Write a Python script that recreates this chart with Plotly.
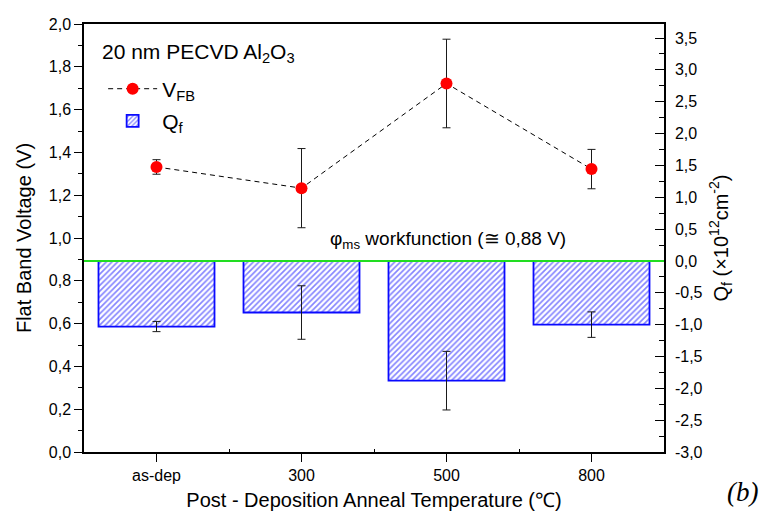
import plotly.graph_objects as go

# Anneal conditions on the x axis
categories = ["as-dep", "300", "500", "800"]

# Flat-band voltage (V) with its error
vfb = [1.332, 1.233, 1.722, 1.322]
vfb_err = [0.034, 0.185, 0.207, 0.092]

# Fixed oxide charge (1e12 cm^-2) with its error
qf = [-1.03, -0.81, -1.88, -1.00]
qf_err = [0.08, 0.42, 0.46, 0.20]

left_ticks = [0.0, 0.2, 0.4, 0.6, 0.8, 1.0, 1.2, 1.4, 1.6, 1.8, 2.0]
right_ticks = [-3.0, -2.5, -2.0, -1.5, -1.0, -0.5, 0.0, 0.5, 1.0, 1.5, 2.0, 2.5, 3.0, 3.5]

x = list(range(len(categories)))
FONT = "Liberation Sans, Arial, sans-serif"
BLUE = "#0a0aff"


def comma(v):
    return f"{v:.1f}".replace(".", ",")


fig = go.Figure()

fig.add_trace(go.Bar(
    x=x, y=qf, yaxis="y2", width=0.8,
    name="Q<sub>f</sub>", legend="legend2", showlegend=True,
    marker=dict(color="white", line=dict(color=BLUE, width=1.8),
                pattern=dict(shape="/", fgcolor=BLUE, bgcolor="white",
                             size=4, solidity=0.42)),
    error_y=dict(type="data", array=qf_err, color="#1a1a1a",
                 thickness=1, width=4),
))

fig.add_trace(go.Scatter(
    x=x, y=vfb, mode="lines+markers", name="V<sub>FB</sub>",
    legend="legend", showlegend=True,
    line=dict(color="black", width=1, dash="5px,4px"),
    marker=dict(color="#ff0000", size=12),
    error_y=dict(type="data", array=vfb_err, color="#1a1a1a",
                 thickness=1, width=4),
))

# Qf = 0 reference (metal-semiconductor workfunction difference)
fig.add_shape(type="line", xref="paper", x0=0, x1=1, yref="y2", y0=0, y1=0,
              line=dict(color="#22dd22", width=2))

fig.add_annotation(xref="paper", yref="paper", x=0.628, y=0.495,
                   text="φ<sub>ms</sub> workfunction (≅ 0,88 V)",
                   showarrow=False, font=dict(family=FONT, size=19, color="black"))
fig.add_annotation(xref="paper", yref="paper", x=0.027, y=0.932, xanchor="left",
                   yanchor="middle",
                   text="20 nm PECVD Al<sub>2</sub>O<sub>3</sub>",
                   showarrow=False, font=dict(family=FONT, size=21, color="black"))
fig.add_annotation(xref="paper", yref="paper", x=1.166, y=-0.134,
                   text="<i>(b)</i>", showarrow=False,
                   font=dict(family="Liberation Serif, Times New Roman, serif",
                             size=27, color="black"))

fig.update_layout(
    width=781, height=524,
    margin=dict(l=84, r=117, t=24, b=72),
    paper_bgcolor="white", plot_bgcolor="white",
    font=dict(family=FONT, size=16, color="black"),
    showlegend=True,
    xaxis=dict(
        range=[-0.5, 3.5], tickvals=x, ticktext=categories,
        showline=True, linecolor="black", linewidth=1.5, mirror=True,
        ticks="outside", ticklen=8, tickwidth=1.2, tickcolor="black",
        minor=dict(tickvals=[0.5, 1.5, 2.5], ticks="inside", ticklen=3,
                   tickcolor="black"),
        showgrid=False, zeroline=False,
        title=dict(text="Post - Deposition Anneal Temperature (℃)",
                   font=dict(family=FONT, size=20), standoff=10),
        tickfont=dict(size=16),
    ),
    yaxis=dict(
        range=[0, 2], tickvals=left_ticks, ticktext=[comma(v) for v in left_ticks],
        showline=True, linecolor="black", linewidth=1.5,
        ticks="outside", ticklen=8, tickwidth=1.2, tickcolor="black",
        minor=dict(dtick=0.1, ticks="outside", ticklen=4, tickcolor="black"),
        showgrid=False, zeroline=False,
        title=dict(text="Flat Band Voltage (V)", font=dict(family=FONT, size=20),
                   standoff=12),
        tickfont=dict(size=16),
    ),
    yaxis2=dict(
        overlaying="y", side="right", anchor="x",
        range=[-3, 3.72], tickvals=right_ticks,
        ticktext=[comma(v) for v in right_ticks],
        showline=True, linecolor="black", linewidth=1.5,
        ticks="inside", ticklen=9, tickwidth=1.2, tickcolor="black",
        ticklabelstandoff=6,
        minor=dict(tickvals=[v + 0.25 for v in right_ticks],
                   ticks="inside", ticklen=5, tickcolor="black"),
        showgrid=False, zeroline=False,
        title=dict(text="Q<sub>f</sub> (×10<sup>12</sup>cm<sup>-2</sup>)",
                   font=dict(family=FONT, size=20), standoff=12),
        tickfont=dict(size=16),
    ),
    legend=dict(x=0.033, y=0.848, xanchor="left", yanchor="middle",
                bgcolor="rgba(0,0,0,0)", font=dict(family=FONT, size=21),
                itemwidth=49),
    legend2=dict(x=0.033, y=0.773, xanchor="left", yanchor="middle",
                 bgcolor="rgba(0,0,0,0)", font=dict(family=FONT, size=21),
                 itemwidth=49),
)

fig.write_html("out.html")
